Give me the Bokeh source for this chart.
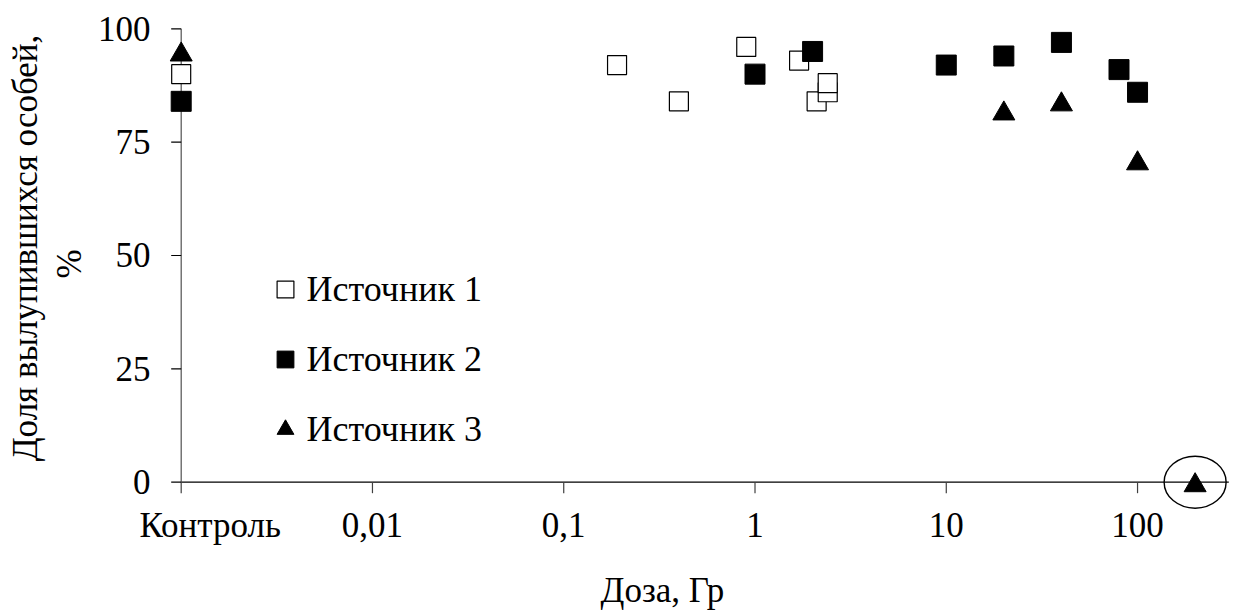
import math

from bokeh.core.properties import value
from bokeh.embed import file_html
from bokeh.models import ColumnDataSource, LabelSet, Legend, LegendItem, Range1d
from bokeh.plotting import figure
from bokeh.resources import INLINE
from bokeh.transform import dodge

# Dose axis (log scale); the first tick position holds the untreated control
tick_values = [0.001, 0.01, 0.1, 1, 10, 100]
tick_labels = ["Контроль", "0,01", "0,1", "1", "10", "100"]
y_ticks = [0, 25, 50, 75, 100]
y_tick_labels = ["0", "25", "50", "75", "100"]

x_title = "Доза, Гр"
y_title = ["Доля вылупившихся особей,", "%"]

series_names = ["Источник 1", "Источник 2", "Источник 3"]

# Hatching success (%) against dose (Gy) for each source
dose_1 = [0.001, 0.19, 0.4, 0.9, 1.7, 2.1, 2.4, 2.4]
hatch_1 = [90, 92, 84, 96, 93, 84, 86, 88]

dose_2 = [0.001, 1, 2, 10, 20, 40, 80, 100]
hatch_2 = [84, 90, 95, 92, 94, 97, 91, 86]

dose_3 = [0.001, 20, 40, 100, 200]
hatch_3 = [95, 82, 84, 71, 0]

FONT = "Liberation Serif"
FS = "35px"
X_AXIS_END = 300

# The frame covers the whole canvas so that axis furniture drawn in data space
# is never clipped; ranges put the control at x=181 px, 100 Gy at 1137 px,
# 0 % at y=482 px and 100 % at y=28 px.
W, H = 1237, 610
p = figure(
    width=W, height=H,
    x_axis_type="log", x_axis_location=None, y_axis_location=None,
    x_range=Range1d(10 ** -3.9447, 10 ** 2.5226),
    y_range=Range1d(-28.30, 106.24),
    output_backend="svg", toolbar_location=None,
    min_border=0,
)
p.grid.visible = False
p.outline_line_color = None
p.background_fill_color = "white"
p.border_fill_color = "white"

ctrl = tick_values[0]


def text_set(source, **kw):
    opts = dict(text="text", source=source, text_font=value(FONT),
                text_font_size=value(FS), text_color="black")
    opts.update(kw)
    p.add_layout(LabelSet(**opts))


# axis lines
p.segment(x0=[ctrl], y0=[y_ticks[0]], x1=[X_AXIS_END], y1=[y_ticks[0]],
          line_color="black", line_width=1.2)
p.segment(x0=[ctrl], y0=[y_ticks[0]], x1=[ctrl], y1=[y_ticks[-1]],
          line_color="#505050", line_width=1.2)

# tick marks
p.ray(x=tick_values, y=[y_ticks[0]] * len(tick_values), length=11, length_units="screen",
      angle=-math.pi / 2, line_color="#404040", line_width=1.2)
p.ray(x=[ctrl] * len(y_ticks), y=y_ticks, length=10, length_units="screen",
      angle=math.pi, line_color="black", line_width=1.2)

# tick labels; the control label is set off to the right of its tick
text_set(ColumnDataSource(data=dict(x=tick_values[1:], text=tick_labels[1:])),
         x="x", y=H - 536, y_units="screen",
         text_align="center", text_baseline="alphabetic")
text_set(ColumnDataSource(data=dict(x=tick_values[:1], text=tick_labels[:1])),
         x="x", x_offset=29, y=H - 536, y_units="screen",
         text_align="center", text_baseline="alphabetic")
text_set(ColumnDataSource(data=dict(y=y_ticks, text=y_tick_labels)),
         x=150, x_units="screen", y="y",
         text_align="right", text_baseline="middle")

# data
r1 = p.scatter(dose_1, hatch_1, marker="square", size=19,
               fill_color="white", line_color="black", line_width=1.2)
r2 = p.scatter(dose_2, hatch_2, marker="square", size=20,
               fill_color="black", line_color="black", line_width=1)
# a triangle's centroid lies below the middle of its box; shift so the box is centred on the value
src3 = ColumnDataSource(data=dict(x=dose_3, y=hatch_3))
r3 = p.scatter(x="x", y=dodge("y", -0.7), source=src3,
               marker="triangle", size=22,
               fill_color="black", line_color="black", line_width=1)

# ring around the highest dose
p.ellipse(x=[dose_3[-1]], y=[hatch_3[-1]], width=62, height=52,
          width_units="screen", height_units="screen",
          fill_color=None, line_color="black", line_width=1.4)

legend = Legend(
    items=[LegendItem(label=n, renderers=[r]) for n, r in zip(series_names, [r1, r2, r3])],
    location=(263.5, 160.5),
    orientation="vertical",
    padding=0, margin=0, spacing=28,
    glyph_width=42, glyph_height=42, label_height=42,
    label_standoff=1,
    label_text_font=FONT, label_text_font_size="36px", label_text_color="black",
    border_line_color=None, background_fill_alpha=0,
)
p.add_layout(legend, "center")

# axis titles (screen positions: x title centred at 662 px; y title in two rotated lines)
text_set(ColumnDataSource(data=dict(text=[x_title])),
         x=662, y=H - 601, x_units="screen", y_units="screen",
         text_align="center", text_baseline="alphabetic")
text_set(ColumnDataSource(data=dict(x=[36.7, 80], y=[H - 247.5, H - 263.5], text=y_title)),
         x="x", y="y", x_units="screen", y_units="screen", angle=math.pi / 2,
         text_align="center", text_baseline="alphabetic")

open("out.html", "w").write(file_html(p, INLINE))
